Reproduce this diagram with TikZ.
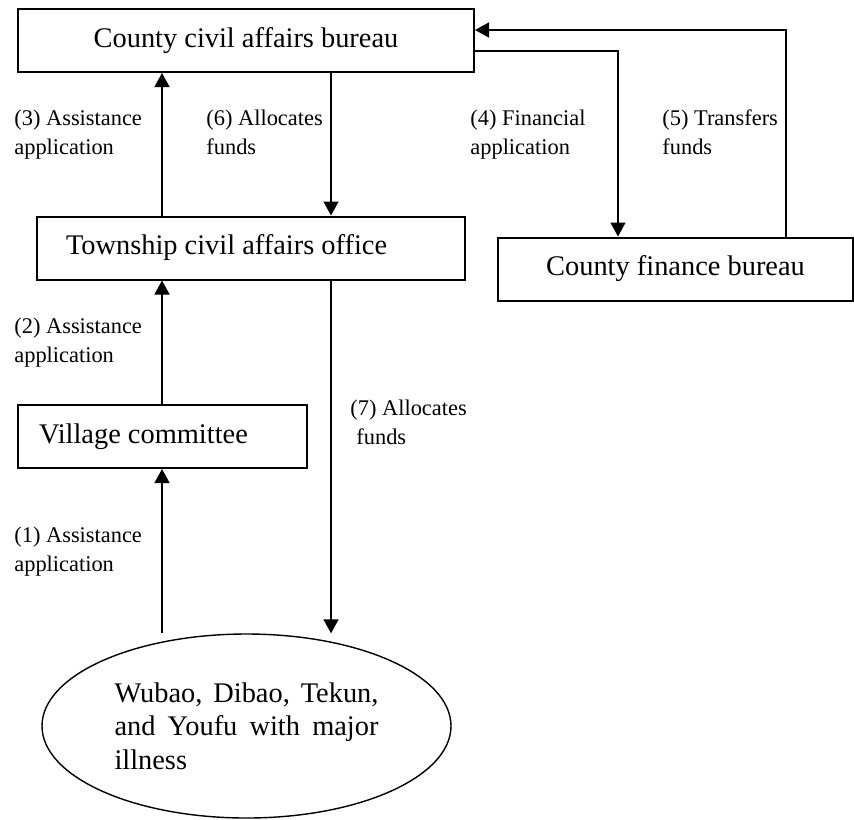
\documentclass[tikz,border=0pt]{standalone}
\usepackage{fontspec}
\setmainfont{Liberation Serif}
\usetikzlibrary{shapes.geometric, arrows.meta, positioning}

\begin{document}
\begin{tikzpicture}[x=0.5pt, y=-0.5pt,
  box/.style={draw, line width=1pt, minimum height=31.5pt, inner sep=0pt, font=\fontsize{14.2}{17}\selectfont},
  lbl/.style={anchor=north west, inner sep=0pt, align=left, font=\fontsize{11.2}{14.5}\selectfont},
  arr/.style={line width=0.7pt, -{Triangle[length=7pt, width=7.5pt]}}]
  \useasboundingbox (0,0) rectangle (854,819);

  % Offices
  \node[box, minimum width=228pt] (cty) at (246,40.5) {County civil affairs bureau};
  \node[box, text width=185pt, inner xsep=14.5pt, align=flush left] (twn) at (251,248) {Township civil affairs office};
  \node[box, minimum width=177.5pt] (fin) at (675.5,269) {County finance bureau};
  \node[box, text width=123.5pt, inner xsep=10.5pt, align=flush left] (vil) at (162.5,436.5) {Village committee};
  % Households
  \node[draw, ellipse, line width=0.7pt, minimum width=204.5pt, minimum height=92pt, inner sep=0pt,
    text width=132pt, align=justify, font=\fontsize{14.2}{16.75}\selectfont] (grp) at (246.5,726)
    {Wubao, Dibao, Tekun, and Youfu with major illness};

  % Columns of the arrows
  \coordinate (lx) at (162,0);
  \coordinate (rx) at (331,0);
  \coordinate (fa) at (618,51);
  \coordinate (ta) at (786,30);

  % Applications up, funds down
  \draw[arr] (lx |- grp.north) -- (vil.south -| lx);
  \draw[arr] (vil.north -| lx) -- (twn.south -| lx);
  \draw[arr] (twn.north -| lx) -- (cty.south -| lx);
  \draw[arr] (cty.east |- fa) -| (fin.north -| fa);
  \draw[arr] (fin.north -| ta) |- (cty.east |- ta);
  \draw[arr] (cty.south -| rx) -- (twn.north -| rx);
  \draw[arr] (twn.south -| rx) -- (rx |- grp.north);

  % Step labels
  \node[lbl] (l3) at (14,109.5) {(3) Assistance\\application};
  \node[lbl] (l6) at (206,109.5) {(6) Allocates\\funds};
  \node[lbl] (l4) at (470,109.5) {(4) Financial\\application};
  \node[lbl] (l5) at (662,109.5) {(5) Transfers\\funds};
  \node[lbl] (l2) at (14,318) {(2) Assistance\\application};
  \node[lbl] (l7) at (350,400) {(7) Allocates\\\hspace{3pt}funds};
  \node[lbl] (l1) at (14,526.5) {(1) Assistance\\application};
\end{tikzpicture}
\end{document}
